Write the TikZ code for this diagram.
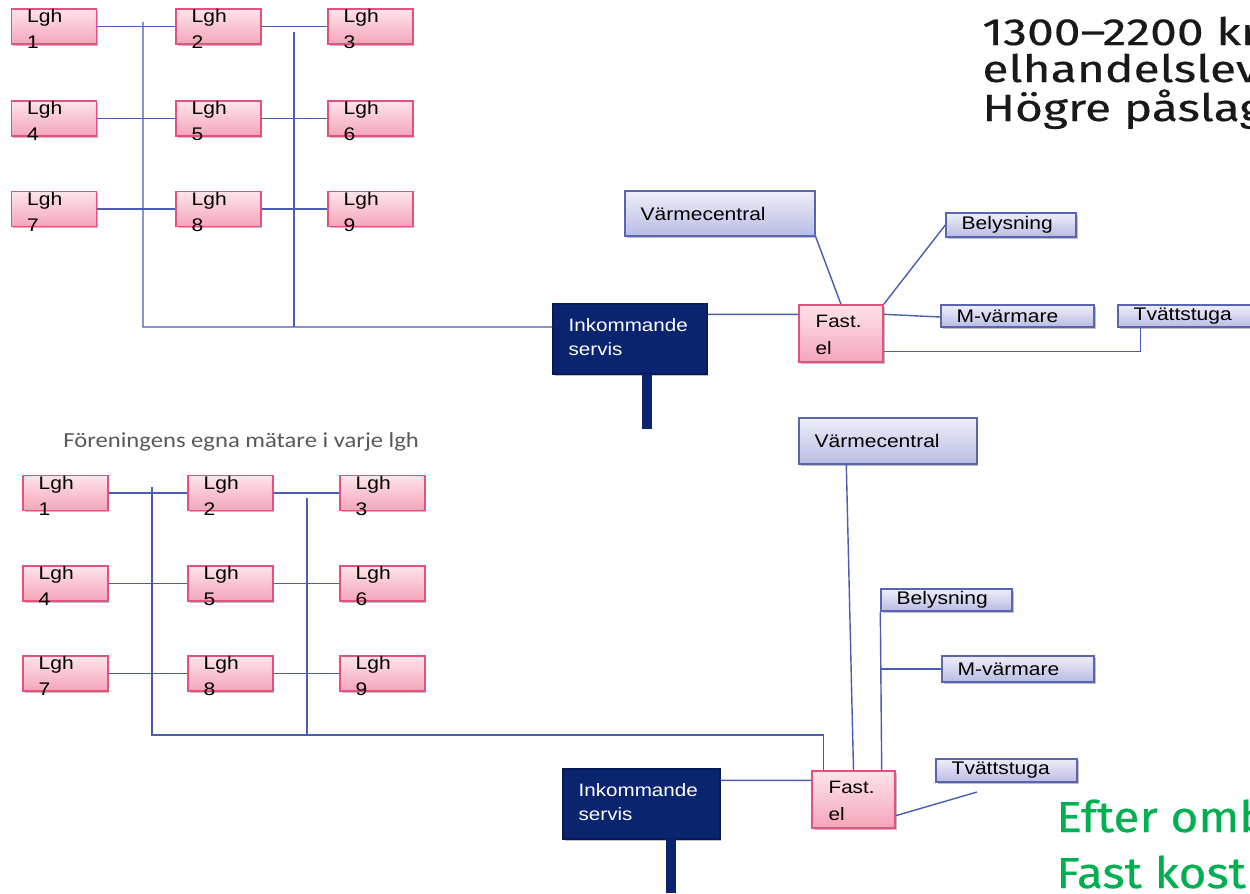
\documentclass[tikz,border=0pt]{standalone}
\usepackage{fontspec}
\setmainfont{Liberation Sans}[FakeStretch=1.15]
\newfontfamily\titlefont{Carlito}[FakeStretch=1.15]
\newfontfamily\dinfont{Fira Sans}[FakeStretch=1.1,FakeBold=0.4]
\newfontfamily\dinwide{Fira Sans}[FakeStretch=1.27,FakeBold=0.4]
\usetikzlibrary{shadows}
\definecolor{lghtop}{HTML}{FDE4EA}
\definecolor{lghbot}{HTML}{F5A5BA}
\definecolor{lghbrd}{HTML}{E5517E}
\definecolor{lavtop}{HTML}{EEEEF9}
\definecolor{lavbot}{HTML}{B9BCE3}
\definecolor{lavbrd}{HTML}{5A64B0}
\definecolor{navy}{HTML}{0A2470}
\definecolor{navybrd}{HTML}{061A55}
\definecolor{wireblue}{HTML}{4A5DB0}
\definecolor{offgreen}{HTML}{00B050}
\definecolor{titlegray}{HTML}{595959}
\begin{document}
\begin{tikzpicture}[x=0.02cm,y=-0.02cm,
  shad/.style={drop shadow={shadow xshift=0.03cm,shadow yshift=-0.03cm,opacity=0.25,fill=black}},
  lgh/.style={draw=lghbrd,line width=0.8pt,top color=lghtop,bottom color=lghbot,
    minimum width=1.7cm,minimum height=0.7cm,inner sep=0pt,shad},
  lav/.style={draw=lavbrd,line width=0.8pt,top color=lavtop,bottom color=lavbot,inner sep=0pt,shad},
  ink/.style={draw=navybrd,line width=0.8pt,fill=navy,inner sep=0pt,shad},
  lghlab/.style={anchor=north west,align=left,inner sep=0pt,xshift=0.32cm,yshift=-0.02cm,
    font=\fontsize{10.4}{14.7}\selectfont},
  fastlab/.style={anchor=north west,align=left,inner sep=0pt,xshift=0.34cm,yshift=-0.22cm,
    font=\fontsize{10.2}{15.3}\selectfont},
  inklab/.style={anchor=north west,align=left,inner sep=0pt,xshift=0.32cm,yshift=-0.3cm,
    text=white,font=\fontsize{10.2}{13.6}\selectfont},
  lavlab/.style={anchor=west,inner sep=0pt,xshift=0.32cm,font=\fontsize{10.4}{12}\selectfont},
  wire/.style={draw=wireblue,line width=0.8pt},
  stem/.style={draw=navy,line width=0.2cm},
  bigtext/.style={anchor=base west,inner sep=0pt,font=\dinfont\fontsize{24.7}{30}\selectfont},
  toptext/.style={anchor=base west,inner sep=0pt,text=black!90,font=\dinwide\fontsize{21.5}{26}\selectfont},
]
\useasboundingbox (0,0) rectangle (1250,893);
\fill[white] (0,0) rectangle (1250,893);

% ---------- top grid ----------
\node[lgh,label={[lghlab]north west:{Lgh\\1}}] (a1) at (54,26.5) {};
\node[lgh,label={[lghlab]north west:{Lgh\\2}}] (a2) at (218.5,26.5) {};
\node[lgh,label={[lghlab]north west:{Lgh\\3}}] (a3) at (370.5,26.5) {};
\node[lgh,label={[lghlab]north west:{Lgh\\4}}] (a4) at (54,118.5) {};
\node[lgh,label={[lghlab]north west:{Lgh\\5}}] (a5) at (218.5,118.5) {};
\node[lgh,label={[lghlab]north west:{Lgh\\6}}] (a6) at (370.5,118.5) {};
\node[lgh,label={[lghlab]north west:{Lgh\\7}}] (a7) at (54,209) {};
\node[lgh,label={[lghlab]north west:{Lgh\\8}}] (a8) at (218.5,209) {};
\node[lgh,label={[lghlab]north west:{Lgh\\9}}] (a9) at (370.5,209) {};

\draw[wire] (a1.east) -- (a2.west);
\draw[wire] (a2.east) -- (a3.west);
\draw[wire] (a4.east) -- (a5.west);
\draw[wire] (a5.east) -- (a6.west);
\draw[wire] (a7.east) -- (a8.west);
\draw[wire] (a8.east) -- (a9.west);

% ---------- top right ----------
\node[ink,minimum width=3.08cm,minimum height=1.4cm,
  label={[inklab]north west:{Inkommande\\servis}}] (ink1) at (630,339) {};
\node[lgh,minimum width=1.68cm,minimum height=1.14cm,
  label={[fastlab]north west:{Fast.\\el}}] (f1) at (841,333.5) {};
\node[lav,minimum width=3.8cm,minimum height=0.9cm,
  label={[lavlab]west:Värmecentral}] (vc1) at (720,213.5) {};
\node[lav,minimum width=2.6cm,minimum height=0.48cm,
  label={[lavlab]west:Belysning}] (bel1) at (1011,225) {};
\node[lav,minimum width=3.06cm,minimum height=0.44cm,
  label={[lavlab]west:M-värmare}] (mv1) at (1017.5,316) {};
\node[lav,minimum width=3.1cm,minimum height=0.44cm,
  label={[lavlab]west:Tvättstuga}] (tv1) at (1195.5,316) {};

\coordinate (tl1) at (143,22);
\coordinate (tl2) at (143,327);
\coordinate (tr1) at (294,32);
\coordinate (tr2) at (294,327);
\draw[wire] (tl1) -- (tl2) -- ([yshift=0.24cm]ink1.west);
\draw[wire] (tr1) -- (tr2);
\draw[wire] ([yshift=-0.22cm]ink1.north east) -- ([yshift=-0.2cm]f1.north west);
\draw[wire] (vc1.south east) -- (f1.north);
\draw[wire] (f1.north east) -- (bel1.west);
\draw[wire] ([yshift=-0.2cm]f1.north east) -- ([yshift=-0.02cm]mv1.west);
\draw[wire] ([yshift=0.22cm]f1.south east) -| ([xshift=0.46cm]tv1.south west);
\coordinate (s1a) at (647,374);
\coordinate (s1b) at (647,429);
\draw[stem] (s1a) -- (s1b);

% ---------- top right text ----------
\node[toptext] (info1) at (982,45) {1300–2200 kr};
\node[toptext] (info2) at (982,82) {elhandelslev};
\node[toptext] (info3) at (982,121) {Högre påslag};

% ---------- bottom grid ----------
\node[anchor=base west,inner sep=0pt,text=titlegray,
  font=\titlefont\fontsize{12.2}{14}\selectfont] (title) at (63,447)
  {Föreningens egna mätare i varje lgh};

\node[lgh,label={[lghlab]north west:{Lgh\\1}}] (b1) at (65.5,493) {};
\node[lgh,label={[lghlab]north west:{Lgh\\2}}] (b2) at (230.5,493) {};
\node[lgh,label={[lghlab]north west:{Lgh\\3}}] (b3) at (382.5,493) {};
\node[lgh,label={[lghlab]north west:{Lgh\\4}}] (b4) at (65.5,583.5) {};
\node[lgh,label={[lghlab]north west:{Lgh\\5}}] (b5) at (230.5,583.5) {};
\node[lgh,label={[lghlab]north west:{Lgh\\6}}] (b6) at (382.5,583.5) {};
\node[lgh,label={[lghlab]north west:{Lgh\\7}}] (b7) at (65.5,673.5) {};
\node[lgh,label={[lghlab]north west:{Lgh\\8}}] (b8) at (230.5,673.5) {};
\node[lgh,label={[lghlab]north west:{Lgh\\9}}] (b9) at (382.5,673.5) {};

\draw[wire] (b1.east) -- (b2.west);
\draw[wire] (b2.east) -- (b3.west);
\draw[wire] (b4.east) -- (b5.west);
\draw[wire] (b5.east) -- (b6.west);
\draw[wire] (b7.east) -- (b8.west);
\draw[wire] (b8.east) -- (b9.west);

% ---------- bottom right ----------
\node[ink,minimum width=3.14cm,minimum height=1.4cm,
  label={[inklab]north west:{Inkommande\\servis}}] (ink2) at (641.5,804) {};
\node[lgh,minimum width=1.66cm,minimum height=1.14cm,
  label={[fastlab]north west:{Fast.\\el}}] (f2) at (853.5,799.5) {};
\node[lav,minimum width=3.56cm,minimum height=0.92cm,
  label={[lavlab]west:Värmecentral}] (vc2) at (888,441) {};
\node[lav,minimum width=2.62cm,minimum height=0.44cm,
  label={[lavlab]west:Belysning}] (bel2) at (946.5,600) {};
\node[lav,minimum width=3.04cm,minimum height=0.52cm,
  label={[lavlab]west:M-värmare}] (mv2) at (1018,669) {};
\node[lav,minimum width=2.82cm,minimum height=0.46cm,
  label={[lavlab]west:Tvättstuga}] (tv2) at (1006.5,770.5) {};

\coordinate (bl1) at (152,487);
\coordinate (bl2) at (152,735);
\coordinate (br1) at (307,498);
\coordinate (br2) at (307,735);
\coordinate (tvend) at (977,792);
\draw[wire] (bl1) -- (bl2) -| ([xshift=0.24cm]f2.north west);
\draw[wire] (br1) -- (br2);
\draw[wire] ([yshift=-0.24cm]ink2.north east) -- ([yshift=-0.2cm]f2.north west);
\draw[wire] ([xshift=0.96cm]vc2.south west) -- (f2.north);
\draw[wire] (bel2.south west) -- ([xshift=-0.28cm]f2.north east);
\draw[wire] (bel2.south west |- mv2.west) -- (mv2.west);
\draw[wire] ([yshift=0.26cm]f2.south east) -- (tvend);
\coordinate (s2a) at (671,839);
\coordinate (s2b) at (671,893);
\draw[stem] (s2a) -- (s2b);

\node[bigtext,text=offgreen] (after1) at (1056,832) {Efter omb};
\node[bigtext,text=offgreen] (after2) at (1056,888) {Fast kost};
\end{tikzpicture}
\end{document}
